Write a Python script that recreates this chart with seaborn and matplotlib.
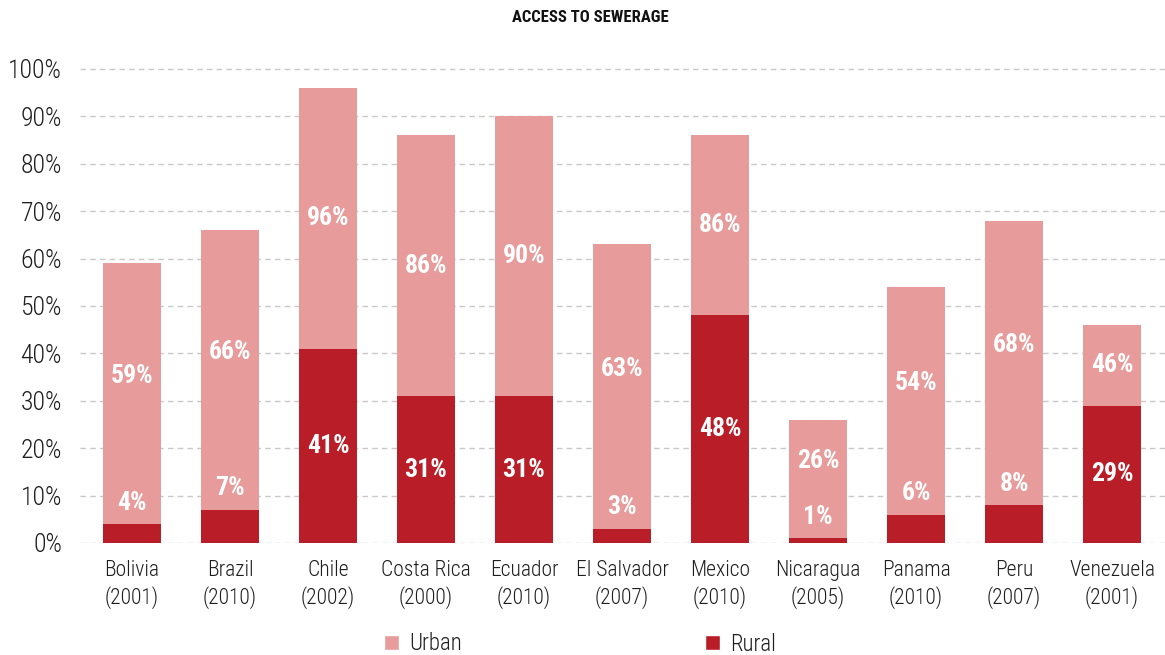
import matplotlib
matplotlib.use("Agg")
import matplotlib.pyplot as plt
from matplotlib.patches import Patch
import seaborn as sns
import pandas as pd

countries = ["Bolivia", "Brazil", "Chile", "Costa Rica", "Ecuador", "El Salvador",
             "Mexico", "Nicaragua", "Panama", "Peru", "Venezuela"]
years = ["2001", "2010", "2002", "2000", "2010", "2007",
         "2010", "2005", "2010", "2007", "2001"]
urban = [59, 66, 96, 86, 90, 63, 86, 26, 54, 68, 46]
rural = [4, 7, 41, 31, 31, 3, 48, 1, 6, 8, 29]

URBAN_COLOR = "#E79B9B"
RURAL_COLOR = "#B91E28"
TEXT_COLOR = "#1E1E1E"

sns.set_theme(style="white")
plt.rcParams["font.family"] = ["Roboto Condensed", "Archivo Narrow", "PT Sans Narrow",
                               "Liberation Sans Narrow", "DejaVu Sans"]

labels = [f"{c}\n({y})" for c, y in zip(countries, years)]
df = pd.DataFrame({"label": labels, "urban": urban, "rural": rural})

fig = plt.figure(figsize=(11.65, 6.55), dpi=100)
ax = fig.add_axes([80 / 1165, 1 - 543 / 655, 1 - 80 / 1165, (543 - 59.5) / 655])

sns.barplot(data=df, x="label", y="urban", color=URBAN_COLOR, width=0.6,
            saturation=1, linewidth=0, ax=ax, zorder=2)
sns.barplot(data=df, x="label", y="rural", color=RURAL_COLOR, width=0.6,
            saturation=1, linewidth=0, ax=ax, zorder=3)

ax.set_ylim(0, 102)
ax.set_xlim(-0.53, 10.54)
ax.set_yticks(range(0, 101, 10))
ax.set_yticklabels([f"{v}%" for v in range(0, 101, 10)])
ax.yaxis.grid(True, linestyle=(0, (4, 3)), color="#C8C8C8", linewidth=1)
ax.set_axisbelow(True)
for s in ax.spines.values():
    s.set_visible(False)
ax.set_xlabel("")
ax.set_ylabel("")
ax.tick_params(axis="y", length=0, pad=13, labelsize=18.5, labelcolor=TEXT_COLOR)
ax.tick_params(axis="x", length=0, pad=12, labelsize=15.5, labelcolor=TEXT_COLOR)
for t in ax.get_yticklabels():
    t.set_fontweight("light")
for t in ax.get_xticklabels():
    t.set_linespacing(1.3)
    t.set_fontweight("light")

# value labels: inside the bar when it is tall enough, otherwise just above it
for i, (u, r) in enumerate(zip(urban, rural)):
    if r >= 20:
        ry = r / 2
        low = r
    else:
        ry = r + 4.5
        low = ry + 3
    uy = (low + u) / 2
    ax.text(i, ry, f"{r}%", ha="center", va="center", color="white",
            fontsize=18.5, fontweight="bold", zorder=4)
    ax.text(i, uy, f"{u}%", ha="center", va="center", color="white",
            fontsize=18.5, fontweight="bold", zorder=4)

fig.text(590 / 1165, 1 - 18 / 655, "ACCESS TO SEWERAGE", ha="center", va="center",
         fontsize=12, fontweight="bold", color="#111111")

handles = [Patch(facecolor=URBAN_COLOR, label="Urban"),
           Patch(facecolor=RURAL_COLOR, label="Rural")]
leg = fig.legend(handles=handles, loc="center", bbox_to_anchor=(580 / 1165, 1 - 644 / 655),
                 ncol=2, frameon=False, fontsize=16.5, handlelength=0.65, handleheight=0.65,
                 handletextpad=0.45, columnspacing=10.6, labelcolor=TEXT_COLOR)
for t in leg.get_texts():
    t.set_fontweight("light")

fig.savefig("out.png", dpi=100)
